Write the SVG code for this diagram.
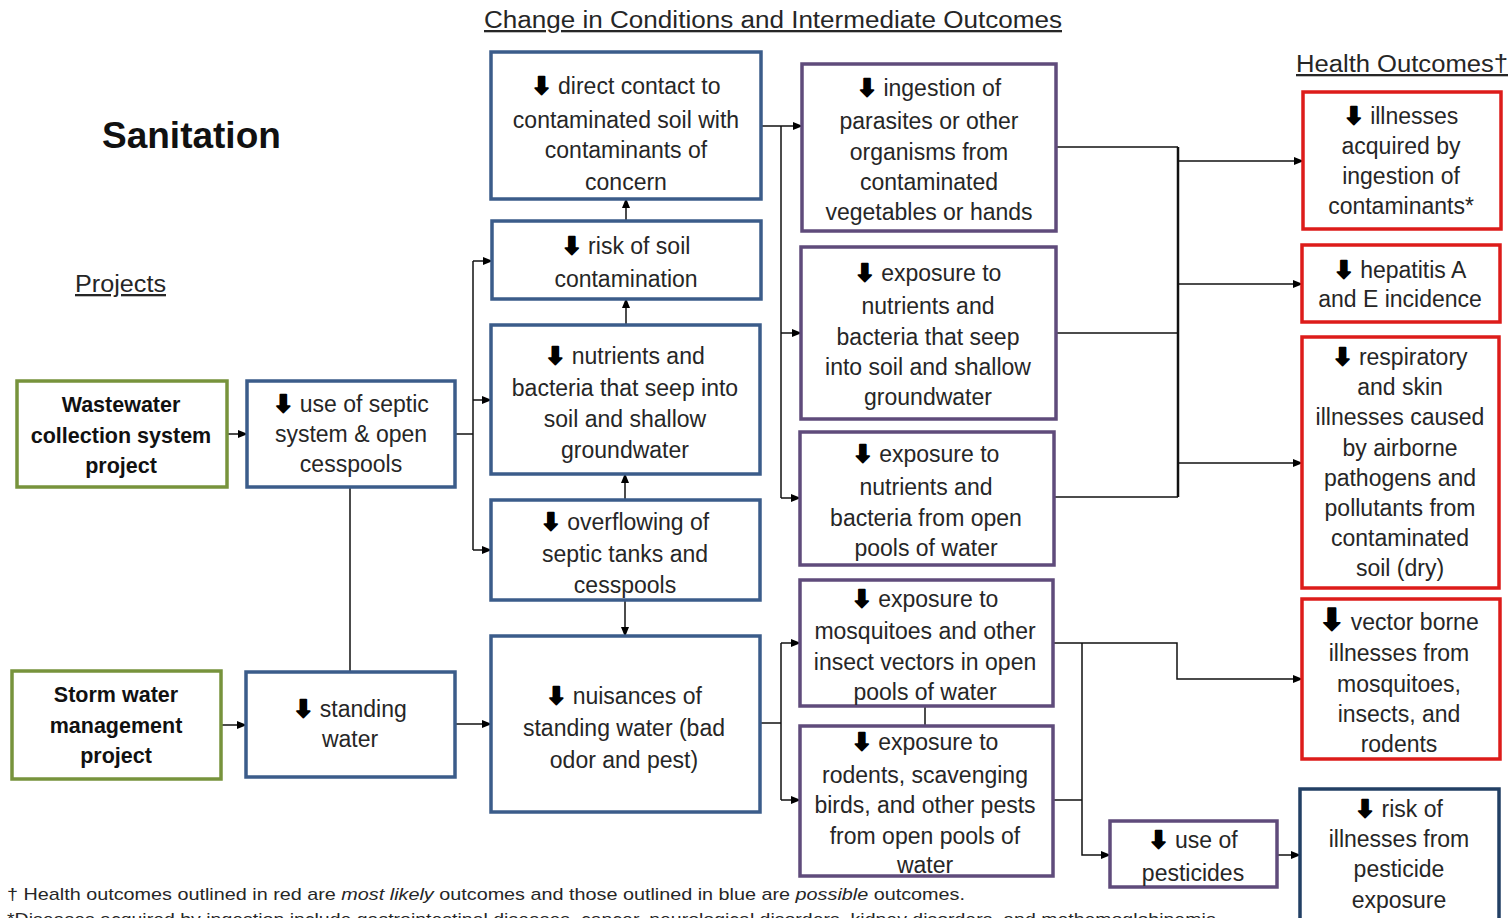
<svg xmlns="http://www.w3.org/2000/svg" width="1512" height="918" viewBox="0 0 1512 918">
<defs>
<style>
.t{font-family:"Liberation Sans",Arial,sans-serif;font-size:23px;fill:#262626;text-anchor:middle}
.b{font-family:"Liberation Sans",Arial,sans-serif;font-size:21.5px;font-weight:bold;fill:#111;text-anchor:middle}
.ar{font-family:"DejaVu Sans",sans-serif;font-weight:bold;font-size:24px;fill:#000;stroke:#000;stroke-width:1.6;stroke-linejoin:round}
.h{font-family:"Liberation Sans",Arial,sans-serif;font-size:23px;fill:#262626;text-decoration:underline}
.f{font-family:"Liberation Sans",Arial,sans-serif;font-size:17px;fill:#262626}
.g{fill:#fff;stroke:#77933C;stroke-width:3.5}
.bl{fill:#fff;stroke:#3B5C8A;stroke-width:3.5}
.pu{fill:#fff;stroke:#5F4B7B;stroke-width:3.5}
.rd{fill:#fff;stroke:#DD1C1A;stroke-width:3.5}
.nv{fill:#fff;stroke:#223F64;stroke-width:3.5}
.c{fill:none;stroke:#111;stroke-width:1.5}
</style>
<marker id="ah" markerWidth="10" markerHeight="10" refX="9" refY="5" orient="auto" markerUnits="userSpaceOnUse">
<path d="M0,1 L10,5 L0,9 Z" fill="#000"/>
</marker>
</defs>
<rect width="1512" height="918" fill="#fff"/>

<text class="h" x="484" y="28" textLength="578" lengthAdjust="spacingAndGlyphs">Change in Conditions and Intermediate Outcomes</text>
<text class="h" x="1296" y="72" textLength="212" lengthAdjust="spacingAndGlyphs">Health Outcomes†</text>
<text x="102" y="148" style="font-family:'Liberation Sans',Arial,sans-serif;font-size:37px;font-weight:bold;fill:#111">Sanitation</text>
<text class="h" x="75" y="292" textLength="91" lengthAdjust="spacingAndGlyphs">Projects</text>

<g id="connectors">
<path class="c" d="M227,434 H247" marker-end="url(#ah)"/>
<path class="c" d="M221,725 H246" marker-end="url(#ah)"/>
<path class="c" d="M350,487 V672"/>
<path class="c" d="M455,434 H473"/>
<path class="c" d="M473,261 V550"/>
<path class="c" d="M473,261 H492" marker-end="url(#ah)"/>
<path class="c" d="M473,400 H491" marker-end="url(#ah)"/>
<path class="c" d="M473,550 H491" marker-end="url(#ah)"/>
<path class="c" d="M626,221 V199" marker-end="url(#ah)"/>
<path class="c" d="M626,325 V299" marker-end="url(#ah)"/>
<path class="c" d="M625,500 V474" marker-end="url(#ah)"/>
<path class="c" d="M625,600 V636" marker-end="url(#ah)"/>
<path class="c" d="M455,724 H491" marker-end="url(#ah)"/>
<path class="c" d="M761,126 H781"/>
<path class="c" d="M781,126 V498"/>
<path class="c" d="M781,126 H802" marker-end="url(#ah)"/>
<path class="c" d="M781,333 H801" marker-end="url(#ah)"/>
<path class="c" d="M781,498 H800" marker-end="url(#ah)"/>
<path class="c" d="M760,723 H781"/>
<path class="c" d="M781,643 V800"/>
<path class="c" d="M781,643 H800" marker-end="url(#ah)"/>
<path class="c" d="M781,800 H800" marker-end="url(#ah)"/>
<path class="c" d="M925,706 V726"/>
<path class="c" d="M1056,147 H1178"/>
<path class="c" d="M1056,333 H1178"/>
<path class="c" d="M1054,497 H1178"/>
<path class="c" d="M1178,147 V497" style="stroke-width:2.5"/>
<path class="c" d="M1178,161 H1303" marker-end="url(#ah)"/>
<path class="c" d="M1178,284 H1302" marker-end="url(#ah)"/>
<path class="c" d="M1178,463 H1302" marker-end="url(#ah)"/>
<path class="c" d="M1053,643 H1177 V679 H1302" marker-end="url(#ah)"/>
<path class="c" d="M1082,643 V855 H1110" marker-end="url(#ah)"/>
<path class="c" d="M1053,800 H1082"/>
<path class="c" d="M1277,855 H1300" marker-end="url(#ah)"/>
</g>

<g id="n-wastewater">
<rect class="g" x="17" y="381" width="210" height="106"/>
<text class="b"><tspan x="121" y="412">Wastewater</tspan><tspan x="121" y="443">collection system</tspan><tspan x="121" y="473">project</tspan></text>
</g>
<g id="n-storm">
<rect class="g" x="12" y="671" width="209" height="108"/>
<text class="b"><tspan x="116" y="702">Storm water</tspan><tspan x="116" y="733">management</tspan><tspan x="116" y="763">project</tspan></text>
</g>
<g id="n-septic">
<rect class="bl" x="247" y="381" width="208" height="106"/>
<text class="t"><tspan x="351" y="412"><tspan class="ar">⬇</tspan> use of septic</tspan><tspan x="351" y="442">system &amp; open</tspan><tspan x="351" y="472">cesspools</tspan></text>
</g>
<g id="n-standing">
<rect class="bl" x="246" y="672" width="209" height="105"/>
<text class="t"><tspan x="350" y="717"><tspan class="ar">⬇</tspan> standing</tspan><tspan x="350" y="747">water</tspan></text>
</g>
<g id="n-direct">
<rect class="bl" x="491" y="52" width="270" height="147"/>
<text class="t"><tspan x="626" y="94"><tspan class="ar">⬇</tspan> direct contact to</tspan><tspan x="626" y="128">contaminated soil with</tspan><tspan x="626" y="158">contaminants of</tspan><tspan x="626" y="190">concern</tspan></text>
</g>
<g id="n-risksoil">
<rect class="bl" x="492" y="221" width="269" height="78"/>
<text class="t"><tspan x="626" y="254"><tspan class="ar">⬇</tspan> risk of soil</tspan><tspan x="626" y="287">contamination</tspan></text>
</g>
<g id="n-nutrients">
<rect class="bl" x="491" y="325" width="269" height="149"/>
<text class="t"><tspan x="625" y="364"><tspan class="ar">⬇</tspan> nutrients and</tspan><tspan x="625" y="396">bacteria that seep into</tspan><tspan x="625" y="427">soil and shallow</tspan><tspan x="625" y="458">groundwater</tspan></text>
</g>
<g id="n-overflow">
<rect class="bl" x="491" y="500" width="269" height="100"/>
<text class="t"><tspan x="625" y="530"><tspan class="ar">⬇</tspan> overflowing of</tspan><tspan x="625" y="562">septic tanks and</tspan><tspan x="625" y="593">cesspools</tspan></text>
</g>
<g id="n-nuisances">
<rect class="bl" x="491" y="636" width="269" height="176"/>
<text class="t"><tspan x="624" y="704"><tspan class="ar">⬇</tspan> nuisances of</tspan><tspan x="624" y="736">standing water (bad</tspan><tspan x="624" y="768">odor and pest)</tspan></text>
</g>
<g id="n-ingestion">
<rect class="pu" x="802" y="64" width="254" height="167"/>
<text class="t"><tspan x="929" y="96"><tspan class="ar">⬇</tspan> ingestion of</tspan><tspan x="929" y="129">parasites or other</tspan><tspan x="929" y="160">organisms from</tspan><tspan x="929" y="190">contaminated</tspan><tspan x="929" y="220">vegetables or hands</tspan></text>
</g>
<g id="n-expseep">
<rect class="pu" x="801" y="247" width="255" height="172"/>
<text class="t"><tspan x="928" y="281"><tspan class="ar">⬇</tspan> exposure to</tspan><tspan x="928" y="314">nutrients and</tspan><tspan x="928" y="345">bacteria that seep</tspan><tspan x="928" y="375">into soil and shallow</tspan><tspan x="928" y="405">groundwater</tspan></text>
</g>
<g id="n-exppools">
<rect class="pu" x="800" y="432" width="254" height="133"/>
<text class="t"><tspan x="926" y="462"><tspan class="ar">⬇</tspan> exposure to</tspan><tspan x="926" y="495">nutrients and</tspan><tspan x="926" y="526">bacteria from open</tspan><tspan x="926" y="556">pools of water</tspan></text>
</g>
<g id="n-mosquito">
<rect class="pu" x="800" y="580" width="253" height="126"/>
<text class="t"><tspan x="925" y="607"><tspan class="ar">⬇</tspan> exposure to</tspan><tspan x="925" y="639">mosquitoes and other</tspan><tspan x="925" y="670">insect vectors in open</tspan><tspan x="925" y="700">pools of water</tspan></text>
</g>
<g id="n-rodents">
<rect class="pu" x="800" y="726" width="253" height="150"/>
<text class="t"><tspan x="925" y="750"><tspan class="ar">⬇</tspan> exposure to</tspan><tspan x="925" y="783">rodents, scavenging</tspan><tspan x="925" y="813">birds, and other pests</tspan><tspan x="925" y="844">from open pools of</tspan><tspan x="925" y="873">water</tspan></text>
</g>
<g id="n-pesticides">
<rect class="pu" x="1110" y="821" width="167" height="66"/>
<text class="t"><tspan x="1193" y="848"><tspan class="ar">⬇</tspan> use of</tspan><tspan x="1193" y="881">pesticides</tspan></text>
</g>
<g id="n-illingest">
<rect class="rd" x="1303" y="92" width="198" height="137"/>
<text class="t"><tspan x="1401" y="124"><tspan class="ar">⬇</tspan> illnesses</tspan><tspan x="1401" y="154">acquired by</tspan><tspan x="1401" y="184">ingestion of</tspan><tspan x="1401" y="214">contaminants*</tspan></text>
</g>
<g id="n-hepatitis">
<rect class="rd" x="1302" y="245" width="198" height="77"/>
<text class="t"><tspan x="1400" y="278"><tspan class="ar">⬇</tspan> hepatitis A</tspan><tspan x="1400" y="307">and E incidence</tspan></text>
</g>
<g id="n-respiratory">
<rect class="rd" x="1302" y="337" width="197" height="251"/>
<text class="t"><tspan x="1400" y="365"><tspan class="ar">⬇</tspan> respiratory</tspan><tspan x="1400" y="395">and skin</tspan><tspan x="1400" y="425">illnesses caused</tspan><tspan x="1400" y="456">by airborne</tspan><tspan x="1400" y="486">pathogens and</tspan><tspan x="1400" y="516">pollutants from</tspan><tspan x="1400" y="546">contaminated</tspan><tspan x="1400" y="576">soil (dry)</tspan></text>
</g>
<g id="n-vector">
<rect class="rd" x="1302" y="599" width="198" height="160"/>
<text class="t"><tspan x="1399" y="630"><tspan class="ar" style="font-size:30px">⬇</tspan> vector borne</tspan><tspan x="1399" y="661">illnesses from</tspan><tspan x="1399" y="692">mosquitoes,</tspan><tspan x="1399" y="722">insects, and</tspan><tspan x="1399" y="752">rodents</tspan></text>
</g>
<g id="n-riskpest">
<rect class="nv" x="1300" y="789" width="199" height="140"/>
<text class="t"><tspan x="1399" y="817"><tspan class="ar">⬇</tspan> risk of</tspan><tspan x="1399" y="847">illnesses from</tspan><tspan x="1399" y="877">pesticide</tspan><tspan x="1399" y="908">exposure</tspan></text>
</g>

<text class="f" x="7" y="900" textLength="958" lengthAdjust="spacingAndGlyphs">† Health outcomes outlined in red are <tspan font-style="italic">most likely</tspan> outcomes and those outlined in blue are <tspan font-style="italic">possible</tspan> outcomes.</text>
<text class="f" x="7" y="925" textLength="1215" lengthAdjust="spacingAndGlyphs">*Diseases acquired by ingestion include gastrointestinal diseases, cancer, neurological disorders, kidney disorders, and methemoglobinemia.</text>
</svg>
